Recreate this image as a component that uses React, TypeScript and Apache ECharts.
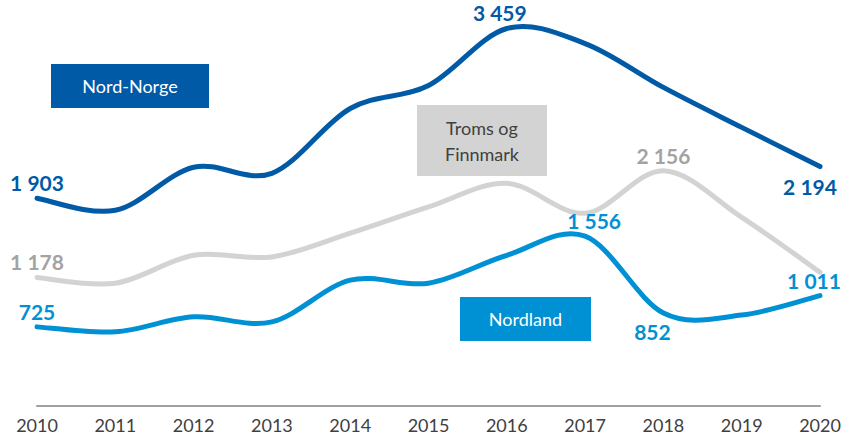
import React, { useEffect, useRef } from "react";
import * as echarts from "echarts";

const years = ["2010", "2011", "2012", "2013", "2014", "2015", "2016", "2017", "2018", "2019", "2020"];
const nordNorge = [1903, 1793, 2187, 2132, 2726, 2937, 3459, 3321, 2919, 2553, 2194];
const tromsFinnmark = [1178, 1125, 1381, 1366, 1583, 1824, 2040, 1766, 2156, 1729, 1226];
const nordland = [725, 680, 817, 771, 1153, 1125, 1381, 1556, 852, 833, 1011];

const C_NN = "#005AA6";
const C_NL = "#0091D4";
const C_TF = "#D3D3D3";
const C_TF_LABEL = "#A3A3A3";
const FONT = "Lato, 'Open Sans', sans-serif";

const fmt = (v: number) => String(v).replace(/\B(?=(\d{3})+(?!\d))/g, " ");

type LabelCfg = { position: string; offset?: number[]; distance?: number };

function build(values: number[], labels: Record<number, LabelCfg>, color: string) {
  return values.map((v, i) => {
    const l = labels[i];
    if (!l) return { value: v };
    return {
      value: v,
      label: {
        show: true,
        position: l.position,
        offset: l.offset || [0, 0],
        distance: l.distance ?? 5,
        color,
        fontFamily: FONT,
        fontWeight: "bold",
        fontSize: 21,
        formatter: (p: any) => fmt(p.value),
      },
    };
  });
}

// Smooth (Catmull-Rom style) curve through the data points, drawn with axis coordinates
function curveSeries(values: number[], color: string, z: number) {
  return {
    type: "custom",
    data: values.map((v, i) => [i, v]),
    z,
    silent: true,
    renderItem: (params: any, api: any) => {
      if (params.dataIndex !== 0) return null;
      const pts = values.map((v, i) => api.coord([i, v]));
      const n = pts.length;
      const t = 1 / 6;
      let d = `M${pts[0][0]},${pts[0][1]}`;
      for (let i = 0; i < n - 1; i++) {
        const p0 = pts[Math.max(i - 1, 0)];
        const p1 = pts[i];
        const p2 = pts[i + 1];
        const p3 = pts[Math.min(i + 2, n - 1)];
        const c1x = p1[0] + (p2[0] - p0[0]) * t;
        const c1y = p1[1] + (p2[1] - p0[1]) * t;
        const c2x = p2[0] - (p3[0] - p1[0]) * t;
        const c2y = p2[1] - (p3[1] - p1[1]) * t;
        d += ` C${c1x},${c1y} ${c2x},${c2y} ${p2[0]},${p2[1]}`;
      }
      return {
        type: "path",
        shape: { pathData: d },
        style: { fill: "none", stroke: color, lineWidth: 5, lineCap: "round", lineJoin: "round" },
      };
    },
  };
}

export default function App() {
  const ref = useRef<HTMLDivElement>(null);
  useEffect(() => {
    if (!ref.current) return;
    const chart = echarts.init(ref.current, undefined, { renderer: "svg" });
    const labelSeries = (name: string, data: any[], color: string) => ({
      name,
      type: "line",
      data,
      symbol: "circle",
      symbolSize: 0,
      showSymbol: true,
      lineStyle: { opacity: 0, width: 0 },
      itemStyle: { color },
      label: { show: false },
      z: 5,
      silent: true,
    });
    chart.setOption({
      animation: false,
      backgroundColor: "#ffffff",
      grid: { left: 37, right: 24, top: 24, bottom: 30 },
      xAxis: {
        type: "category",
        data: years,
        boundaryGap: false,
        axisLine: { show: true, lineStyle: { color: "#A0A0A0", width: 2 } },
        axisTick: { show: false },
        axisLabel: { color: "#404040", fontFamily: FONT, fontSize: 18, margin: 10 },
      },
      yAxis: {
        type: "value",
        min: 0,
        max: 3500,
        show: false,
        splitLine: { show: false },
      },
      series: [
        curveSeries(tromsFinnmark, C_TF, 1),
        curveSeries(nordland, C_NL, 2),
        curveSeries(nordNorge, C_NN, 3),
        labelSeries(
          "Troms og Finnmark",
          build(tromsFinnmark, { 0: { position: "top" }, 8: { position: "top" } }, C_TF_LABEL),
          C_TF
        ),
        labelSeries(
          "Nordland",
          build(
            nordland,
            {
              0: { position: "top" },
              7: { position: "top", offset: [9, 0] },
              8: { position: "bottom", offset: [-11, 3] },
              10: { position: "top", offset: [-6, 0] },
            },
            C_NL
          ),
          C_NL
        ),
        labelSeries(
          "Nord-Norge",
          build(
            nordNorge,
            {
              0: { position: "top" },
              6: { position: "top", offset: [-7, 0] },
              10: { position: "bottom", offset: [-10, 4] },
            },
            C_NN
          ),
          C_NN
        ),
      ],
      graphic: [
        {
          type: "group",
          left: 51,
          top: 64,
          children: [
            { type: "rect", shape: { x: 0, y: 0, width: 158, height: 44 }, style: { fill: C_NN } },
            {
              type: "text",
              x: 79,
              y: 22,
              style: { text: "Nord-Norge", fill: "#ffffff", font: `18px ${FONT}`, align: "center", verticalAlign: "middle" },
            },
          ],
        },
        {
          type: "group",
          left: 417,
          top: 105,
          children: [
            { type: "rect", shape: { x: 0, y: 0, width: 130, height: 71 }, style: { fill: C_TF } },
            {
              type: "text",
              x: 65,
              y: 35.5,
              style: {
                text: "Troms og\nFinnmark",
                fill: "#404040",
                font: `18px ${FONT}`,
                lineHeight: 26,
                align: "center",
                verticalAlign: "middle",
              },
            },
          ],
        },
        {
          type: "group",
          left: 460,
          top: 297,
          children: [
            { type: "rect", shape: { x: 0, y: 0, width: 131, height: 44 }, style: { fill: C_NL } },
            {
              type: "text",
              x: 65.5,
              y: 22,
              style: { text: "Nordland", fill: "#ffffff", font: `18px ${FONT}`, align: "center", verticalAlign: "middle" },
            },
          ],
        },
      ],
    });
    return () => chart.dispose();
  }, []);
  return <div ref={ref} style={{ width: 844, height: 436, position: "absolute", left: 0, top: 0 }} />;
}
